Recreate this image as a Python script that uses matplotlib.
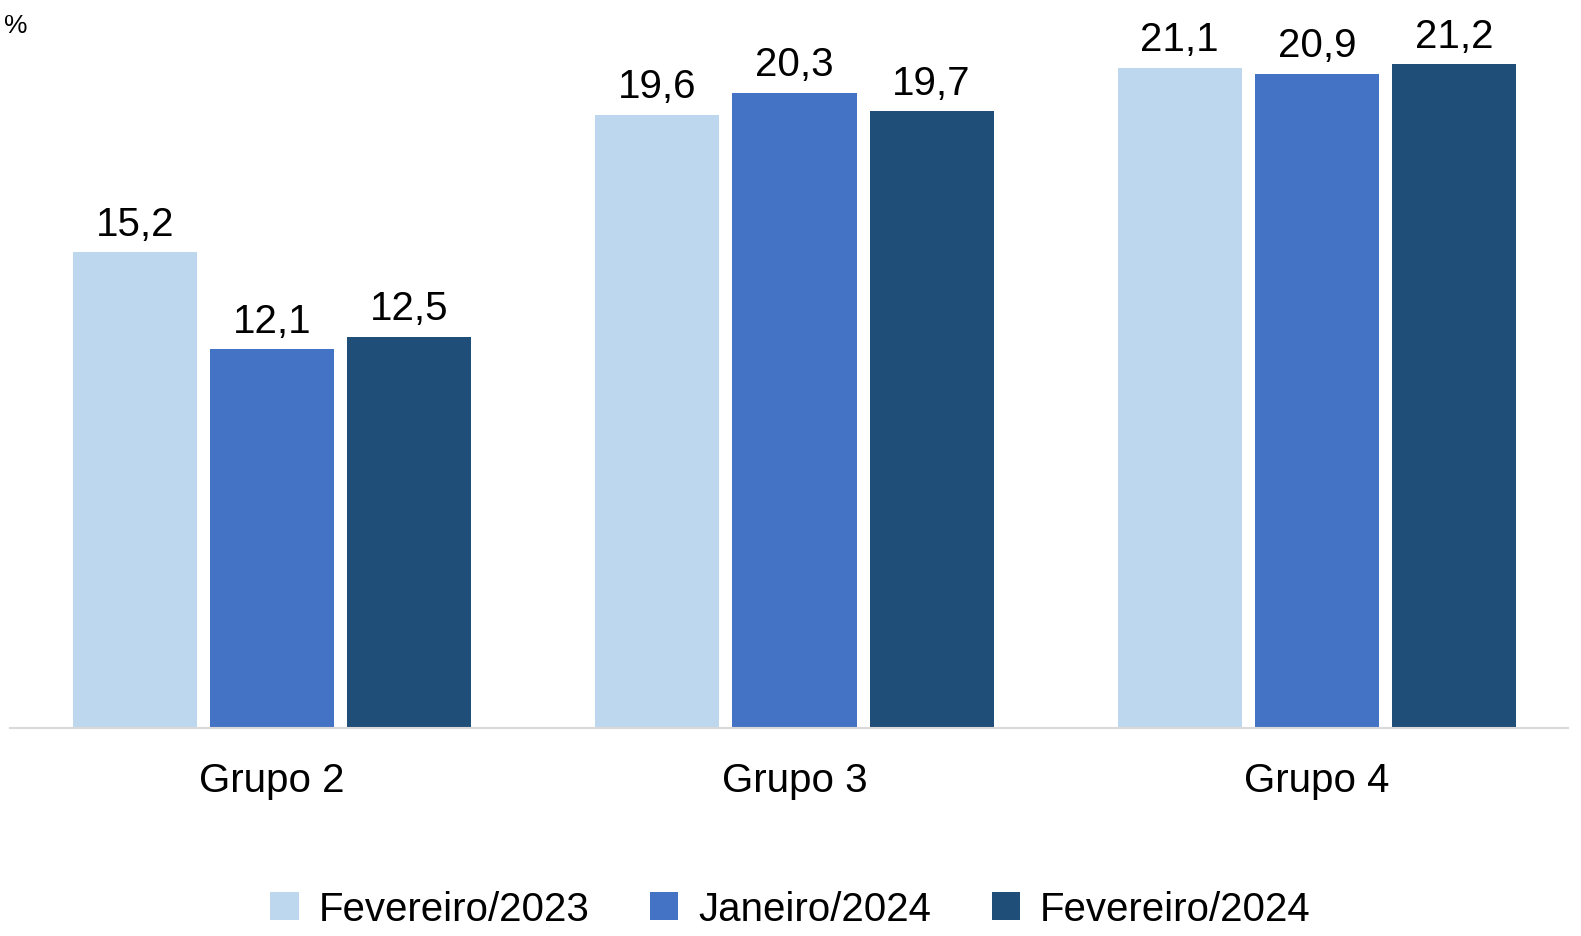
import matplotlib.pyplot as plt
import numpy as np

plt.rcParams['font.family'] = ['Liberation Sans', 'DejaVu Sans']

groups = ["Grupo 2", "Grupo 3", "Grupo 4"]
series = ["Fevereiro/2023", "Janeiro/2024", "Fevereiro/2024"]
fev23 = [15.2, 19.6, 21.1]
jan24 = [12.1, 20.3, 20.9]
fev24 = [12.5, 19.7, 21.2]
colors = ["#BDD7EE", "#4472C4", "#1F4E79"]

fig = plt.figure(figsize=(15.81, 9.37), dpi=100)
ax = fig.add_axes([10/1581, 208/937, 1558/1581, 729/937])

x = np.arange(len(groups))
step, width = 0.2625, 0.2375
for i, (vals, name) in enumerate(zip([fev23, jan24, fev24], series)):
    bars = ax.bar(x + (i - 1) * step, vals, width, color=colors[i], label=name)
    for b, v in zip(bars, vals):
        ax.text(b.get_x() + b.get_width()/2, v + 0.3, f"{v:.1f}".replace(".", ","),
                ha="center", va="bottom", fontsize=29)

ax.set_xlim(-0.502, 2.481)
ax.set_ylim(0, 729/31.3)
ax.set_xticks(x)
ax.set_xticklabels(groups, fontsize=29)
ax.tick_params(axis="x", length=0, pad=24)
ax.set_yticks([])
for s in ["top", "right", "left"]:
    ax.spines[s].set_visible(False)
ax.spines["bottom"].set_color("#D9D9D9")
ax.spines["bottom"].set_linewidth(1.5)

fig.text(4/1581, 1 - 26/937, "%", fontsize=19, va="center")
fig.legend(loc="center", bbox_to_anchor=(0.5, 1 - 910/937), ncol=3, frameon=False,
           fontsize=29, handlelength=0.7, handleheight=0.7, columnspacing=1.5,
           handletextpad=0.5)

fig.savefig("out.png", dpi=100)
